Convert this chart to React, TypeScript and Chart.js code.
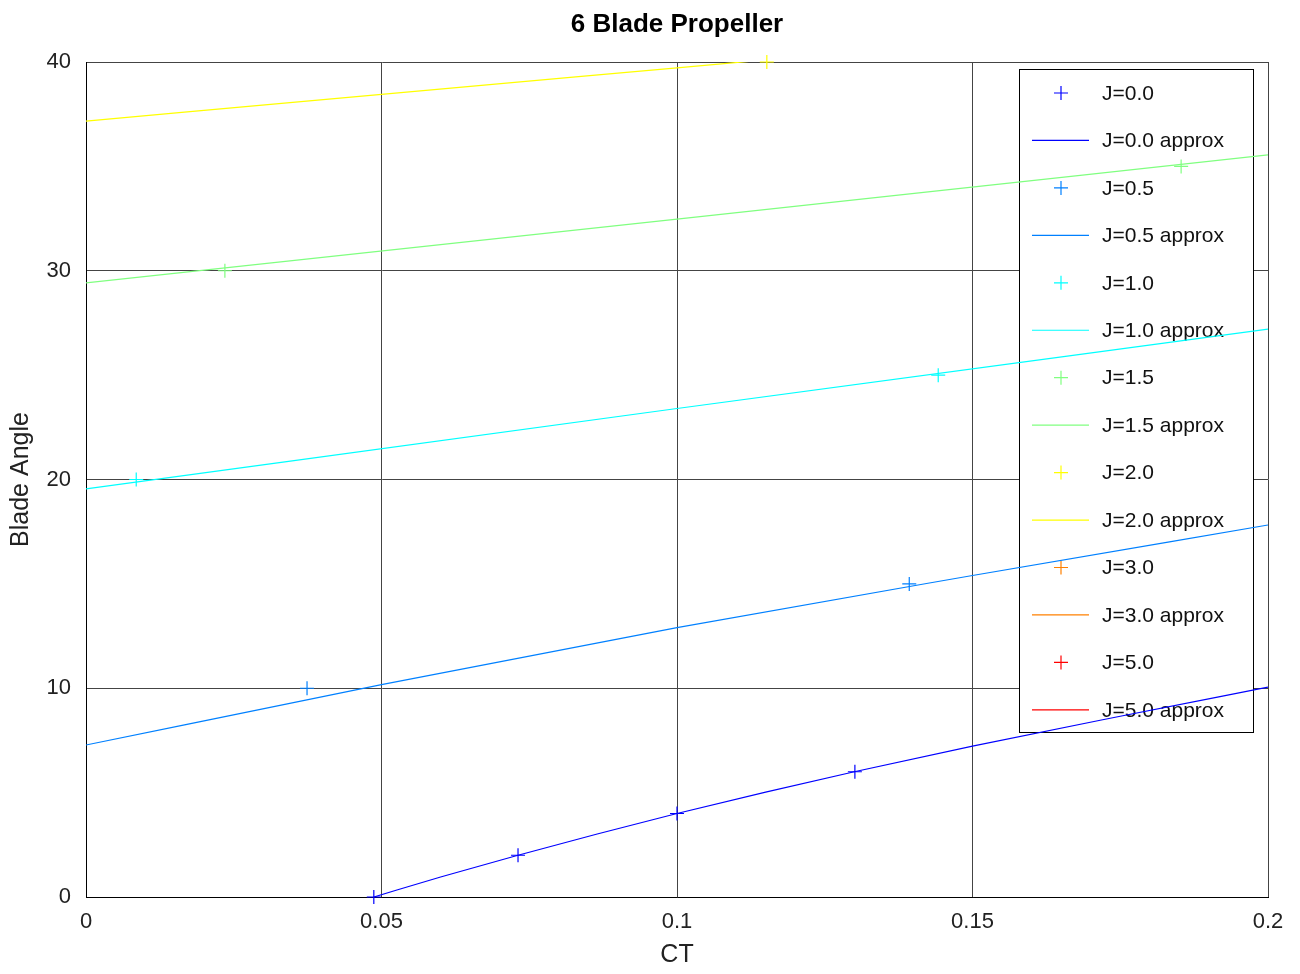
import React, { useEffect, useRef } from "react";
import { Chart, registerables } from "chart.js";

Chart.register(...registerables);

// ---- Data ----
const chartTitle = "6 Blade Propeller";
const seriesLabels = ["J=0.0", "J=0.5", "J=1.0", "J=1.5", "J=2.0", "J=3.0", "J=5.0"];
const seriesColors = ["#0000ff", "#0080ff", "#00ffff", "#80ff80", "#ffff00", "#ff8000", "#ff0000"];

// measured points (markers)
const ct_J00 = [0.0487, 0.0731, 0.1, 0.1301];
const angle_J00 = [0, 2, 4, 6];
const ct_J05 = [0.0374, 0.1393];
const angle_J05 = [10, 15];
const ct_J10 = [0.0085, 0.1442];
const angle_J10 = [20, 25];
const ct_J15 = [0.0235, 0.1853];
const angle_J15 = [30, 35];
const ct_J20 = [0.1152];
const angle_J20 = [40];
const ct_J30: number[] = [];
const angle_J30: number[] = [];
const ct_J50: number[] = [];
const angle_J50: number[] = [];

// approximation curves
const ctFit_J00 = [0.0487, 0.06, 0.0731, 0.0865, 0.1, 0.115, 0.13, 0.15, 0.175, 0.2];
const angleFit_J00 = [0, 0.96, 2.0, 3.02, 4.0, 5.02, 6.0, 7.23, 8.66, 10.05];
const ctFit_J05 = [0, 0.05, 0.1, 0.15, 0.2];
const angleFit_J05 = [7.28, 10.17, 12.9, 15.4, 17.82];
const ctFit_J10 = [0, 0.1, 0.2];
const angleFit_J10 = [19.55, 23.4, 27.2];
const ctFit_J15 = [0, 0.1, 0.2];
const angleFit_J15 = [29.42, 32.47, 35.55];
const ctFit_J20 = [0, 0.05, 0.1, 0.15, 0.2];
const angleFit_J20 = [37.17, 38.45, 39.72, 40.99, 42.26];
const ctFit_J30: number[] = [];
const angleFit_J30: number[] = [];
const ctFit_J50: number[] = [];
const angleFit_J50: number[] = [];

const markerCT = [ct_J00, ct_J05, ct_J10, ct_J15, ct_J20, ct_J30, ct_J50];
const markerAngle = [angle_J00, angle_J05, angle_J10, angle_J15, angle_J20, angle_J30, angle_J50];
const fitCT = [ctFit_J00, ctFit_J05, ctFit_J10, ctFit_J15, ctFit_J20, ctFit_J30, ctFit_J50];
const fitAngle = [angleFit_J00, angleFit_J05, angleFit_J10, angleFit_J15, angleFit_J20, angleFit_J30, angleFit_J50];

const xTicks = [0, 0.05, 0.1, 0.15, 0.2];
const xTickLabels = ["0", "0.05", "0.1", "0.15", "0.2"];
const yTicks = [0, 10, 20, 30, 40];
const yTickLabels = ["0", "10", "20", "30", "40"];

const FONT = "'Liberation Sans', Arial, Helvetica, sans-serif";

const plotTitle = {
  id: "plotTitle",
  afterDraw(chart: any) {
    const { ctx, chartArea } = chart;
    ctx.save();
    ctx.fillStyle = "#000";
    ctx.font = `bold 26px ${FONT}`;
    ctx.textAlign = "center";
    ctx.textBaseline = "middle";
    ctx.fillText(chartTitle, (chartArea.left + chartArea.right) / 2, 25);
    ctx.restore();
  },
};

const boxLegend = {
  id: "boxLegend",
  beforeDatasetsDraw(chart: any) {
    const { ctx, chartArea } = chart;
    const w = 234;
    const h = 663;
    const left = chartArea.right - 15 - w;
    const top = chartArea.top + 7;
    ctx.save();
    ctx.fillStyle = "#ffffff";
    ctx.fillRect(left, top, w, h);
    ctx.strokeStyle = "#000000";
    ctx.lineWidth = 1;
    ctx.strokeRect(Math.round(left) + 0.5, Math.round(top) + 0.5, w, h);
    chart.data.datasets.forEach((ds: any, i: number) => {
      const y = top + 24 + i * 47.45;
      ctx.strokeStyle = ds.borderColor;
      ctx.lineWidth = 1.2;
      ctx.beginPath();
      if (ds.showLine) {
        ctx.moveTo(left + 13, y);
        ctx.lineTo(left + 70, y);
      } else {
        const cx = left + 42;
        ctx.moveTo(cx - 7, y);
        ctx.lineTo(cx + 7, y);
        ctx.moveTo(cx, y - 7);
        ctx.lineTo(cx, y + 7);
      }
      ctx.stroke();
      ctx.fillStyle = "#111111";
      ctx.font = `21px ${FONT}`;
      ctx.textAlign = "left";
      ctx.textBaseline = "middle";
      ctx.fillText(ds.label, left + 83, y + 1);
    });
    ctx.restore();
  },
};

export default function App() {
  const canvasRef = useRef<HTMLCanvasElement | null>(null);

  useEffect(() => {
    if (!canvasRef.current) return;
    const datasets: any[] = [];
    seriesLabels.forEach((label, i) => {
      datasets.push({
        label,
        data: markerCT[i].map((x, k) => ({ x, y: markerAngle[i][k] })),
        borderColor: seriesColors[i],
        backgroundColor: seriesColors[i],
        pointStyle: "cross",
        pointRadius: 7,
        pointBorderWidth: 1.2,
        pointHoverRadius: 7,
        showLine: false,
        clip: false,
      });
      datasets.push({
        label: label + " approx",
        data: fitCT[i].map((x, k) => ({ x, y: fitAngle[i][k] })),
        borderColor: seriesColors[i],
        backgroundColor: seriesColors[i],
        borderWidth: 1.2,
        pointRadius: 0,
        showLine: true,
        tension: 0.3,
        cubicInterpolationMode: "monotone",
      });
    });

    const chart = new Chart(canvasRef.current, {
      type: "scatter",
      data: { datasets },
      plugins: [boxLegend, plotTitle],
      options: {
        animation: false,
        responsive: false,
        layout: { padding: { left: 0, right: 32, top: 62, bottom: 0 } },
        plugins: {
          legend: { display: false },
          tooltip: { enabled: false },
          title: { display: false },
        },
        scales: {
          x: {
            type: "linear",
            min: 0,
            max: 0.2,
            afterBuildTicks: (scale: any) => {
              scale.ticks = xTicks.map((v) => ({ value: v }));
            },
            afterFit: (scale: any) => {
              scale.height = 77;
            },
            ticks: {
              color: "#222",
              font: { family: FONT, size: 22 },
              padding: 12,
              maxRotation: 0,
              callback: (_v: any, i: number) => xTickLabels[i],
            },
            grid: { color: "#444", lineWidth: 1, drawTicks: false },
            border: { color: "#000", width: 1 },
            title: {
              display: true,
              text: "CT",
              color: "#222",
              font: { family: FONT, size: 25 },
              padding: { top: 0, bottom: 4 },
            },
          },
          y: {
            type: "linear",
            min: 0,
            max: 40,
            afterBuildTicks: (scale: any) => {
              scale.ticks = yTicks.map((v) => ({ value: v }));
            },
            afterFit: (scale: any) => {
              scale.width = 86;
            },
            ticks: {
              color: "#222",
              font: { family: FONT, size: 22 },
              padding: 15,
              callback: (_v: any, i: number) => yTickLabels[i],
            },
            grid: { color: "#444", lineWidth: 1, drawTicks: false },
            border: { color: "#000", width: 1 },
            title: {
              display: true,
              text: "Blade Angle",
              color: "#222",
              font: { family: FONT, size: 25 },
              padding: { top: 6, bottom: 0 },
            },
          },
        },
      } as any,
    });
    return () => chart.destroy();
  }, []);

  return (
    <div style={{ position: "fixed", left: 0, top: 0, width: 1300, height: 974, background: "#fff" }}>
      <canvas ref={canvasRef} width={1300} height={974} style={{ display: "block" }} />
    </div>
  );
}
